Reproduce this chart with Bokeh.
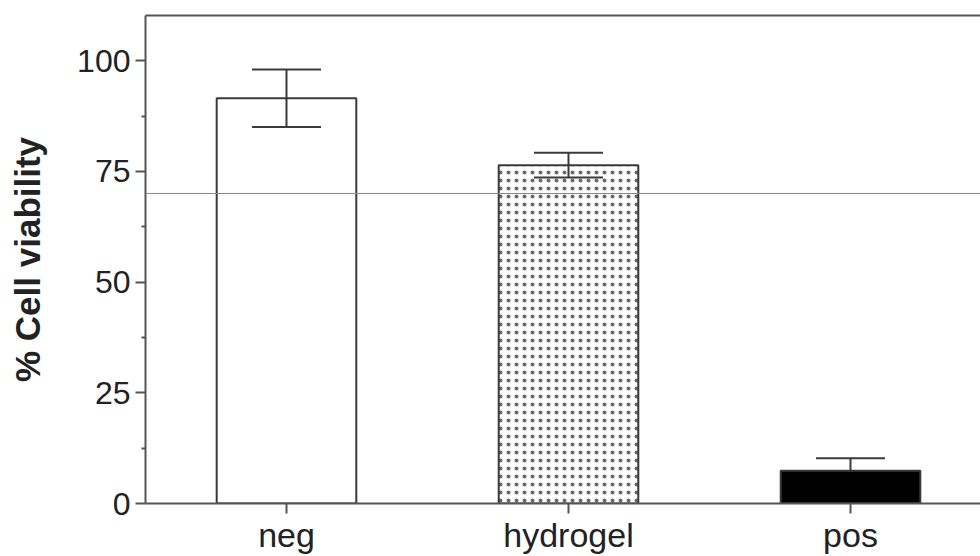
from bokeh.plotting import figure
from bokeh.models import (ColumnDataSource, Range1d, FixedTicker, LinearAxis, Whisker,
                          TeeHead, Span)
from bokeh.embed import file_html
from bokeh.resources import INLINE

# ---- data ----
categories = ["neg", "hydrogel", "pos"]
viability = [91.5, 76.4, 7.4]
sd = [6.5, 2.8, 2.8]
threshold = 70
fill_colors = ["white", "white", "black"]
hatches = [" ", "dot", " "]
y_ticks = [0, 25, 50, 75, 100]
y_minor = [12.5, 37.5, 62.5, 87.5]

xs = [i + 1 for i in range(len(categories))]
upper = [v + s for v, s in zip(viability, sd)]
lower = [v - s for v, s in zip(viability, sd)]
src = ColumnDataSource(dict(
    x=xs, top=viability, upper=upper, lower=lower,
    fill=fill_colors, hatch=hatches,
))
# lower halves are hidden inside a black bar, so only draw them on light bars
keep = [i for i, c in enumerate(fill_colors) if c != "black"]
src_lo = ColumnDataSource(dict(
    x=[xs[i] for i in keep],
    top=[viability[i] for i in keep],
    lower=[lower[i] for i in keep],
))

p = figure(width=980, height=556, output_backend="svg", toolbar_location=None,
           x_range=Range1d(0.5, 3.461), y_range=Range1d(0, 110.2),
           min_border_left=145, min_border_top=15, min_border_right=0,
           min_border_bottom=53)
p.outline_line_color = None
p.xgrid.visible = False
p.ygrid.visible = False
p.background_fill_color = "white"

axis_color = "#555555"
font = "Liberation Sans"
wc = "#3a3a3a"

# threshold line
p.add_layout(Span(location=threshold, dimension="width", line_color="#8a8a8a",
                  line_width=1.2))

p.vbar(x="x", top="top", bottom=0, width=0.495, source=src,
       fill_color="fill", line_color=wc, line_width=2,
       hatch_pattern="hatch", hatch_color="#6a6a6a", hatch_scale=8,
       hatch_weight=1.6)

whisk_up = Whisker(base="x", upper="upper", lower="top", source=src,
                   line_color=wc, line_width=2, level="overlay",
                   upper_head=TeeHead(size=69, line_color=wc, line_width=2),
                   lower_head=None)
p.add_layout(whisk_up)
whisk_lo = Whisker(base="x", upper="top", lower="lower", source=src_lo,
                   line_color=wc, line_width=2, level="overlay",
                   upper_head=None,
                   lower_head=TeeHead(size=69, line_color=wc, line_width=2))
p.add_layout(whisk_lo)

# y axis
ya = p.yaxis[0]
ya.ticker = FixedTicker(ticks=y_ticks, minor_ticks=y_minor)
ya.axis_label = "% Cell viability"
ya.axis_label_text_font = font
ya.axis_label_text_font_style = "bold"
ya.axis_label_text_font_size = "35px"
ya.axis_label_text_color = "#222222"
ya.axis_label_standoff = 27
ya.major_label_text_font = font
ya.major_label_text_font_size = "32px"
ya.major_label_text_color = "#222222"
ya.major_label_standoff = 5
ya.major_tick_out = 10
ya.major_tick_in = 0
ya.minor_tick_out = 4
ya.minor_tick_in = 0
ya.axis_line_color = axis_color
ya.axis_line_width = 2
ya.major_tick_line_color = axis_color
ya.major_tick_line_width = 2
ya.minor_tick_line_color = axis_color
ya.minor_tick_line_width = 2

# x axis
xa = p.xaxis[0]
xa.ticker = FixedTicker(ticks=xs, minor_ticks=[])
xa.major_label_overrides = {x: c for x, c in zip(xs, categories)}
xa.major_label_text_font = font
xa.major_label_text_font_size = "34px"
xa.major_label_text_color = "#222222"
xa.major_label_standoff = 2
xa.major_tick_out = 10
xa.major_tick_in = 0
xa.axis_line_color = axis_color
xa.axis_line_width = 2
xa.major_tick_line_color = axis_color
xa.major_tick_line_width = 2

# top border
top = LinearAxis(ticker=FixedTicker(ticks=[]), major_label_text_font_size="0px",
                 axis_line_color=axis_color, axis_line_width=2,
                 major_tick_line_color=None, minor_tick_line_color=None)
p.add_layout(top, "above")

open("out.html", "w").write(file_html(p, INLINE))
